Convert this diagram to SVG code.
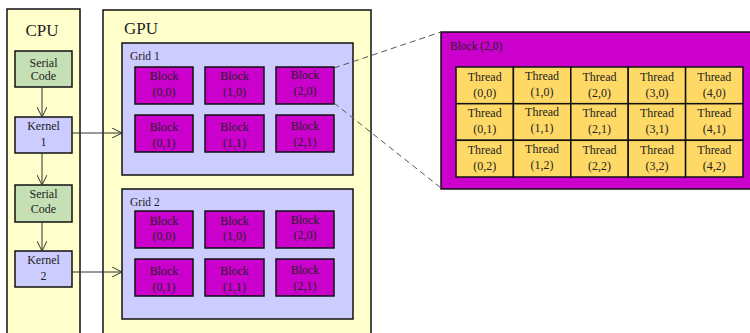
<svg xmlns="http://www.w3.org/2000/svg" width="750" height="333" viewBox="0 0 750 333">
<defs>
<style>
text{font-family:"Liberation Serif","DejaVu Serif",serif;fill:#222;text-anchor:middle}
.big{font-size:17px}
.lbl{font-size:12px}
.sm{font-size:11.5px;text-anchor:start}
.panel{fill:#FFFFCC;stroke:#111;stroke-width:1.5}
.green{fill:#C5E0B4;stroke:#111;stroke-width:1.5}
.lav{fill:#CCCCFF;stroke:#111;stroke-width:1.5}
.mag{fill:#CC00CC;stroke:#111;stroke-width:1.5}
.thr{fill:#FFD966;stroke:#111;stroke-width:1.5}
.conn{stroke:#333;stroke-width:1;fill:none}
.dash{stroke:#555;stroke-width:1;fill:none;stroke-dasharray:6,4}
</style>
<marker id="v" viewBox="0 0 10 10" refX="10" refY="5" markerWidth="10" markerHeight="10" markerUnits="userSpaceOnUse" orient="auto">
<path d="M0,0 L10,5 L0,10" fill="none" stroke="#333" stroke-width="1"/>
</marker>
</defs>
<rect width="750" height="333" fill="#fff"/>
<g id="cpu">
<rect class="panel" x="7" y="9" width="73" height="330"/>
<text class="big" x="42" y="36">CPU</text>
</g>
<g id="gpu">
<rect class="panel" x="103" y="10" width="268" height="330"/>
<text class="big" x="141" y="34">GPU</text>
</g>
<g id="serial1"><rect class="green" x="15" y="51" width="57" height="36"/><text class="lbl" x="43.5" y="67">Serial</text><text class="lbl" x="43.5" y="80">Code</text></g>
<g id="kernel1"><rect class="lav" x="15" y="117" width="57" height="36"/><text class="lbl" x="43.5" y="130">Kernel</text><text class="lbl" x="43.5" y="146">1</text></g>
<g id="serial2"><rect class="green" x="15" y="185" width="57" height="37"/><text class="lbl" x="43.5" y="198">Serial</text><text class="lbl" x="43.5" y="213">Code</text></g>
<g id="kernel2"><rect class="lav" x="15" y="251" width="57" height="36"/><text class="lbl" x="43.5" y="264">Kernel</text><text class="lbl" x="43.5" y="280">2</text></g>
<g id="grid1">
<rect class="lav" x="122" y="43" width="231" height="132"/>
<text class="sm" x="130" y="60">Grid 1</text>
</g>
<g id="g1b00"><rect class="mag" x="135" y="67" width="58" height="37"/><text class="lbl" x="164" y="80">Block</text><text class="lbl" x="164" y="96">(0,0)</text></g>
<g id="g1b10"><rect class="mag" x="205" y="67" width="59" height="37"/><text class="lbl" x="234.5" y="80">Block</text><text class="lbl" x="234.5" y="96">(1,0)</text></g>
<g id="g1b20"><rect class="mag" x="276" y="67" width="58" height="37"/><text class="lbl" x="305" y="79">Block</text><text class="lbl" x="305" y="95">(2,0)</text></g>
<g id="g1b01"><rect class="mag" x="135" y="115" width="58" height="37"/><text class="lbl" x="164" y="131">Block</text><text class="lbl" x="164" y="147">(0,1)</text></g>
<g id="g1b11"><rect class="mag" x="205" y="115" width="59" height="37"/><text class="lbl" x="234.5" y="131">Block</text><text class="lbl" x="234.5" y="147">(1,1)</text></g>
<g id="g1b21"><rect class="mag" x="276" y="115" width="58" height="37"/><text class="lbl" x="305" y="130">Block</text><text class="lbl" x="305" y="146">(2,1)</text></g>
<g id="grid2">
<rect class="lav" x="122" y="189" width="231" height="130"/>
<text class="sm" x="130" y="206">Grid 2</text>
</g>
<g id="g2b00"><rect class="mag" x="135" y="211" width="58" height="37"/><text class="lbl" x="164" y="225">Block</text><text class="lbl" x="164" y="240">(0,0)</text></g>
<g id="g2b10"><rect class="mag" x="205" y="211" width="59" height="37"/><text class="lbl" x="234.5" y="225">Block</text><text class="lbl" x="234.5" y="240">(1,0)</text></g>
<g id="g2b20"><rect class="mag" x="276" y="211" width="58" height="37"/><text class="lbl" x="305" y="224">Block</text><text class="lbl" x="305" y="239">(2,0)</text></g>
<g id="g2b01"><rect class="mag" x="135" y="259" width="58" height="37"/><text class="lbl" x="164" y="275">Block</text><text class="lbl" x="164" y="291">(0,1)</text></g>
<g id="g2b11"><rect class="mag" x="205" y="259" width="59" height="37"/><text class="lbl" x="234.5" y="275">Block</text><text class="lbl" x="234.5" y="291">(1,1)</text></g>
<g id="g2b21"><rect class="mag" x="276" y="259" width="58" height="37"/><text class="lbl" x="305" y="274">Block</text><text class="lbl" x="305" y="290">(2,1)</text></g>
<g id="blockzoom">
<rect class="mag" x="441" y="32" width="312" height="157"/>
<text class="sm" x="450" y="50">Block (2,0)</text>
</g>
<g id="threads">
<rect class="thr" x="456" y="67" width="57.4" height="36.7"/><text class="lbl" x="484.7" y="81">Thread</text><text class="lbl" x="484.7" y="97">(0,0)</text>
<rect class="thr" x="513.4" y="67" width="57.4" height="36.7"/><text class="lbl" x="542.1" y="80">Thread</text><text class="lbl" x="542.1" y="96">(1,0)</text>
<rect class="thr" x="570.8" y="67" width="57.4" height="36.7"/><text class="lbl" x="599.5" y="81">Thread</text><text class="lbl" x="599.5" y="97">(2,0)</text>
<rect class="thr" x="628.2" y="67" width="57.4" height="36.7"/><text class="lbl" x="656.9" y="81">Thread</text><text class="lbl" x="656.9" y="97">(3,0)</text>
<rect class="thr" x="685.6" y="67" width="57.4" height="36.7"/><text class="lbl" x="714.3" y="81">Thread</text><text class="lbl" x="714.3" y="97">(4,0)</text>
<rect class="thr" x="456" y="103.7" width="57.4" height="36.6"/><text class="lbl" x="484.7" y="117">Thread</text><text class="lbl" x="484.7" y="133">(0,1)</text>
<rect class="thr" x="513.4" y="103.7" width="57.4" height="36.6"/><text class="lbl" x="542.1" y="116">Thread</text><text class="lbl" x="542.1" y="132">(1,1)</text>
<rect class="thr" x="570.8" y="103.7" width="57.4" height="36.6"/><text class="lbl" x="599.5" y="117">Thread</text><text class="lbl" x="599.5" y="133">(2,1)</text>
<rect class="thr" x="628.2" y="103.7" width="57.4" height="36.6"/><text class="lbl" x="656.9" y="117">Thread</text><text class="lbl" x="656.9" y="133">(3,1)</text>
<rect class="thr" x="685.6" y="103.7" width="57.4" height="36.6"/><text class="lbl" x="714.3" y="117">Thread</text><text class="lbl" x="714.3" y="133">(4,1)</text>
<rect class="thr" x="456" y="140.3" width="57.4" height="36.7"/><text class="lbl" x="484.7" y="154">Thread</text><text class="lbl" x="484.7" y="170">(0,2)</text>
<rect class="thr" x="513.4" y="140.3" width="57.4" height="36.7"/><text class="lbl" x="542.1" y="153">Thread</text><text class="lbl" x="542.1" y="169">(1,2)</text>
<rect class="thr" x="570.8" y="140.3" width="57.4" height="36.7"/><text class="lbl" x="599.5" y="154">Thread</text><text class="lbl" x="599.5" y="170">(2,2)</text>
<rect class="thr" x="628.2" y="140.3" width="57.4" height="36.7"/><text class="lbl" x="656.9" y="154">Thread</text><text class="lbl" x="656.9" y="170">(3,2)</text>
<rect class="thr" x="685.6" y="140.3" width="57.4" height="36.7"/><text class="lbl" x="714.3" y="154">Thread</text><text class="lbl" x="714.3" y="170">(4,2)</text>
</g>
<g id="connectors">
<line class="conn" x1="42" y1="87" x2="42" y2="117" marker-end="url(#v)"/>
<line class="conn" x1="42" y1="153" x2="42" y2="185" marker-end="url(#v)"/>
<line class="conn" x1="42" y1="222" x2="42" y2="251" marker-end="url(#v)"/>
<line class="conn" x1="72" y1="133" x2="122" y2="133" marker-end="url(#v)"/>
<line class="conn" x1="72" y1="272" x2="122" y2="272" marker-end="url(#v)"/>
<line class="dash" x1="334" y1="68" x2="441" y2="32"/>
<line class="dash" x1="334" y1="103" x2="441" y2="188"/>
</g>
</svg>
